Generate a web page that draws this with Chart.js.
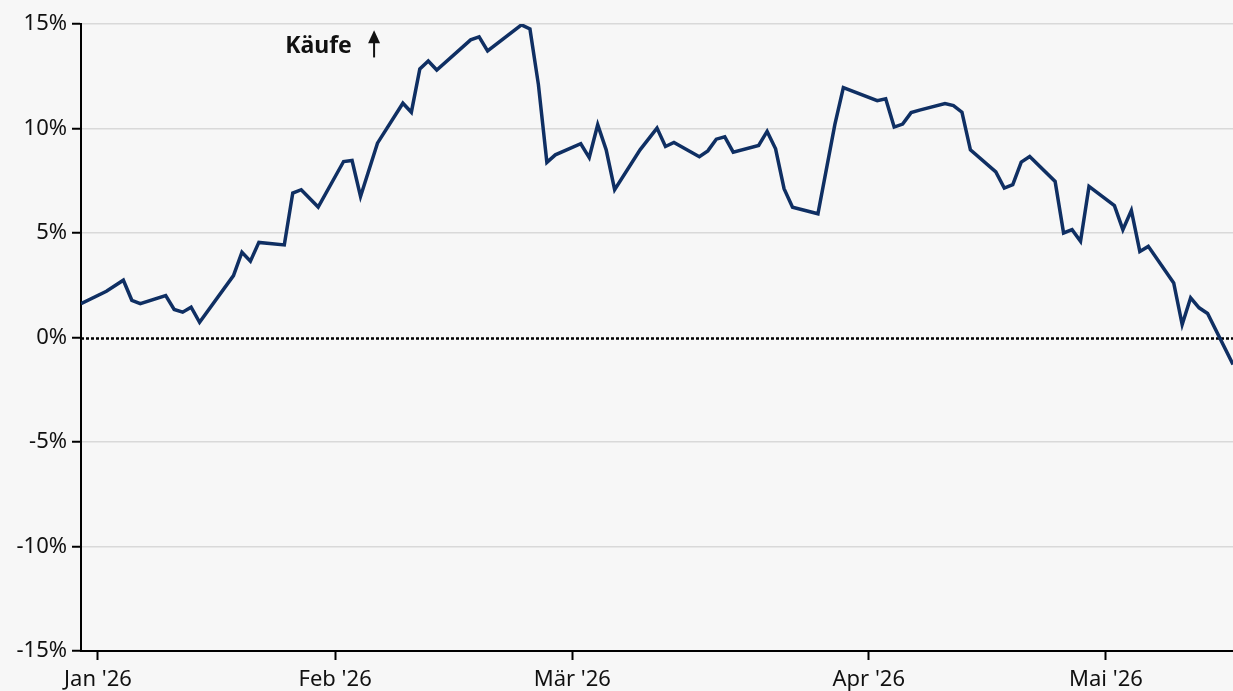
<!DOCTYPE html>
<html lang="de">
<head>
  <meta charset="UTF-8">
  <title>Käufe</title>
  <script src="https://cdn.jsdelivr.net/npm/chart.js"></script>
  <style>
    html, body { margin: 0; padding: 0; background: #f7f7f7; }
    .container { position: relative; width: 1233px; height: 691px; }
  </style>
</head>
<body>
  <div class="container">
    <canvas id="flowChart"></canvas>
  </div>

  <script>
    // Handelstag-Index (x) und Wert in Prozent (y)
    const dayIndex = [
      0, 3, 5, 6, 7, 10, 11, 12, 13, 14, 18, 19, 20, 21, 24, 25, 26, 28, 31, 32,
      33, 35, 38, 39, 40, 41, 42, 46, 47, 48, 52, 53, 54, 55, 56, 59, 60, 61, 62, 63,
      66, 68, 69, 70, 73, 74, 75, 76, 77, 80, 81, 82, 83, 84, 87, 89, 90, 94, 95, 96,
      97, 98, 99, 102, 103, 104, 105, 108, 109, 110, 111, 112, 115, 116, 117, 118, 119, 122, 123, 124,
      125, 126, 129, 130, 131, 132, 133, 136
    ];
    const values = [
      1.62, 2.21, 2.74, 1.78, 1.62, 2.0, 1.34, 1.21, 1.45, 0.73, 2.96, 4.08, 3.65, 4.55, 4.43, 6.91, 7.07, 6.24, 8.42, 8.47,
      6.75, 9.30, 11.21, 10.78, 12.85, 13.23, 12.80, 14.24, 14.38, 13.71, 14.96, 14.76, 12.1, 8.38, 8.74, 9.27, 8.61, 10.18, 8.98, 7.07,
      8.98, 10.02, 9.14, 9.33, 8.65, 8.93, 9.49, 9.60, 8.87, 9.19, 9.86, 9.03, 7.12, 6.23, 5.92, 10.2, 11.96, 11.33, 11.42, 10.07,
      10.21, 10.76, 10.88, 11.19, 11.10, 10.78, 8.98, 7.92, 7.15, 7.31, 8.39, 8.66, 7.47, 5.00, 5.16, 4.60, 7.23, 6.31, 5.16, 6.08,
      4.12, 4.36, 2.61, 0.62, 1.90, 1.42, 1.15, -1.29
    ];

    const monthTickPos = [2, 30, 58, 93, 121];
    const monthLabels = ["Jan '26", "Feb '26", "Mär '26", "Apr '26", "Mai '26"];
    const yTicks = [-15, -10, -5, 0, 5, 10, 15];

    const xMax = 136;
    const labelText = "Käufe";
    const labelPos = { x: 24.1, y: 13.6 };
    const arrowPos = { x: 34.6, top: 14.7, bottom: 13.4 };

    const lineColor = "#0f2f63";
    const font = "'Noto Sans', sans-serif";

    const zeroLine = {
      id: "zeroLine",
      beforeDatasetsDraw(chart) {
        const { ctx, chartArea, scales } = chart;
        const y = Math.round(scales.y.getPixelForValue(0)) + 0.5;
        ctx.save();
        ctx.strokeStyle = "#000";
        ctx.lineWidth = 2.5;
        ctx.setLineDash([3, 2]);
        ctx.beginPath();
        ctx.moveTo(chartArea.left, y);
        ctx.lineTo(chartArea.right, y);
        ctx.stroke();
        ctx.restore();
      }
    };

    const kaeufeLabel = {
      id: "kaeufeLabel",
      afterDraw(chart) {
        const { ctx, scales } = chart;
        const tx = scales.x.getPixelForValue(labelPos.x);
        const ty = scales.y.getPixelForValue(labelPos.y);
        ctx.save();
        ctx.fillStyle = "#111";
        ctx.font = "bold 23px " + font;
        ctx.textBaseline = "alphabetic";
        ctx.fillText(labelText, tx, ty);

        const ax = scales.x.getPixelForValue(arrowPos.x);
        const aTop = scales.y.getPixelForValue(arrowPos.top);
        const aBot = scales.y.getPixelForValue(arrowPos.bottom);
        ctx.strokeStyle = "#111";
        ctx.lineWidth = 2;
        ctx.beginPath();
        ctx.moveTo(ax, aBot);
        ctx.lineTo(ax, aTop + 8);
        ctx.stroke();
        ctx.beginPath();
        ctx.moveTo(ax, aTop);
        ctx.lineTo(ax - 6, aTop + 13);
        ctx.lineTo(ax + 6, aTop + 13);
        ctx.closePath();
        ctx.fill();
        ctx.restore();
      }
    };

    const ctx = document.getElementById("flowChart").getContext("2d");
    new Chart(ctx, {
      type: "line",
      data: {
        datasets: [{
          data: dayIndex.map((x, i) => ({ x, y: values[i] })),
          borderColor: lineColor,
          borderWidth: 3.5,
          pointRadius: 0,
          tension: 0,
          fill: false
        }]
      },
      options: {
        responsive: true,
        maintainAspectRatio: false,
        animation: false,
        layout: { padding: { top: 24, right: 0, left: 0, bottom: 0 } },
        plugins: {
          legend: { display: false },
          tooltip: { enabled: false }
        },
        scales: {
          x: {
            type: "linear",
            min: 0,
            max: xMax,
            afterBuildTicks: scale => {
              scale.ticks = monthTickPos.map(v => ({ value: v }));
            },
            afterFit: scale => { scale.height = 40; },
            ticks: {
              autoSkip: false,
              maxRotation: 0,
              padding: 7,
              color: "#111",
              font: { family: font, size: 22 },
              callback: value => monthLabels[monthTickPos.indexOf(value)]
            },
            grid: {
              drawOnChartArea: false,
              tickLength: 9,
              tickColor: "#000",
              tickWidth: 2
            },
            border: { color: "#000", width: 2 }
          },
          y: {
            min: -15,
            max: 15,
            afterBuildTicks: scale => {
              scale.ticks = yTicks.map(v => ({ value: v }));
            },
            afterFit: scale => { scale.width = 81; },
            ticks: {
              padding: 5,
              color: "#111",
              font: { family: font, size: 22 },
              callback: value => value + "%"
            },
            grid: {
              color: c => (c.tick && c.tick.value === 0) ? "rgba(0,0,0,0)" : "#d9d9d9",
              lineWidth: 1.5,
              tickLength: 9,
              tickColor: "#000",
              tickWidth: 2
            },
            border: { color: "#000", width: 2 }
          }
        }
      },
      plugins: [zeroLine, kaeufeLabel]
    });
  </script>
</body>
</html>
